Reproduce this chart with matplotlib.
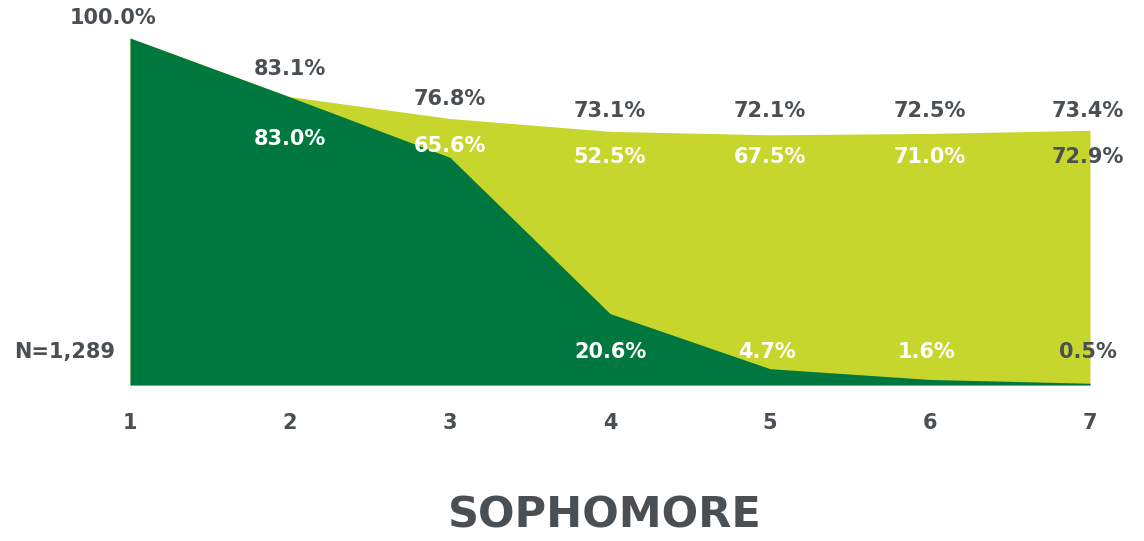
import matplotlib
matplotlib.use("Agg")
import matplotlib.pyplot as plt

steps = [1, 2, 3, 4, 5, 6, 7]
total_pct = [100.0, 83.1, 76.8, 73.1, 72.1, 72.5, 73.4]
dark_pct = [100.0, 83.0, 65.6, 20.6, 4.7, 1.6, 0.5]
upper_inner_labels = ["", "83.0%", "65.6%", "52.5%", "67.5%", "71.0%", "72.9%"]
lower_labels = ["", "", "", "20.6%", "4.7%", "1.6%", "0.5%"]
n_label = "N=1,289"
title = "SOPHOMORE"

DARK = "#00773F"
LIGHT = "#C7D62D"
GRAY = "#4A4F54"

plt.rcParams["font.family"] = ["DejaVu Sans"]

fig = plt.figure(figsize=(11.44, 5.41), dpi=100)
ax = fig.add_axes([130/1144, 1-385/541, 960/1144, 347/541])
ax.set_xlim(1, 7)
ax.set_ylim(0, 100)
ax.fill_between(steps, 0, total_pct, color=LIGHT, lw=0)
ax.fill_between(steps, 0, dark_pct, color=DARK, lw=0)
ax.axis("off")

fs = 15
PX = 0.72  # points per pixel at 100 dpi

def lab(x, y, s, dx, dy, col):
    ax.annotate(s, (x, y), xytext=(dx*PX, dy*PX), textcoords="offset points",
                ha="center", va="center", color=col, fontsize=fs, fontweight="bold",
                annotation_clip=False)

# plateau level used to align labels for steps 4-7
plateau = total_pct[3]

# top gray labels
for i, (x, v) in enumerate(zip(steps, total_pct)):
    off = 28 if i == 1 else 20
    dx = -17 if i == 0 else (-2 if i == 6 else 0)
    y = v if i < 3 else plateau
    lab(x, y, f"{v:.1f}%", dx, off, GRAY)

# inner upper labels
for i, (x, s) in enumerate(zip(steps, upper_inner_labels)):
    if not s:
        continue
    if i == 1:
        lab(x, dark_pct[i], s, 0, -42, "white")
    elif i == 2:
        lab(x, total_pct[i], s, 0, -27, "white")
    elif i == 6:
        lab(x, plateau, s, -2, -26, GRAY)
    else:
        lab(x, plateau, s, 0, -26, "white")

# lower labels
for i, (x, s) in enumerate(zip(steps, lower_labels)):
    if not s:
        continue
    col = GRAY if i == 6 else "white"
    dx = -2 if i == 6 else (-3 if i in (4, 5) else 0)
    lab(x, 0, s, dx, 33, col)

lab(1, 0, n_label, -65, 33, GRAY)

for x in steps:
    lab(x, 0, str(x), 0, -38, GRAY)

fig.text(605/1144, 1-516/541, title, ha="center", va="center", color=GRAY,
         fontsize=31, fontweight="bold")

fig.savefig("out.png", dpi=100, facecolor="white")
